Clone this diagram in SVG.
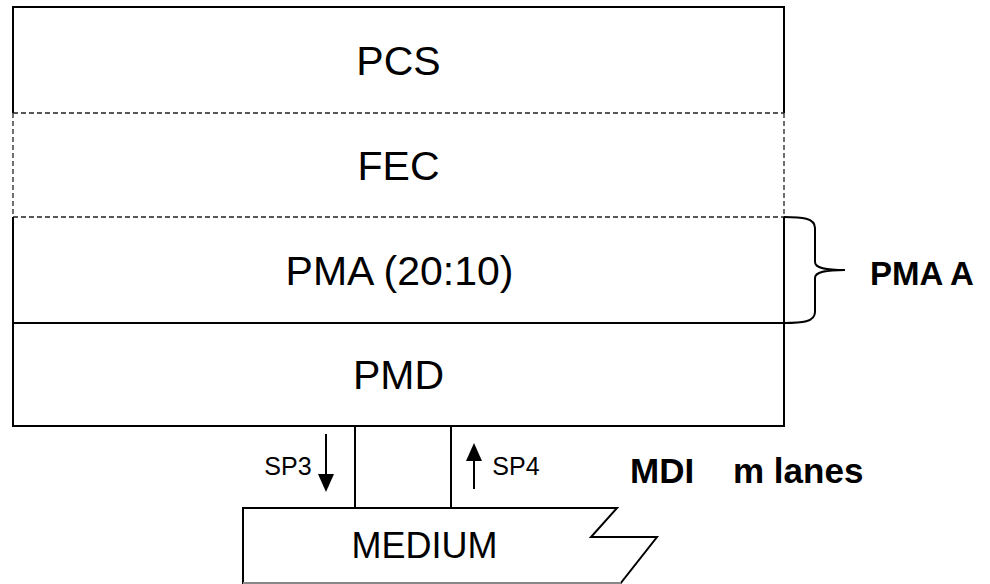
<svg xmlns="http://www.w3.org/2000/svg" width="990" height="584" viewBox="0 0 990 584">
<defs>
<style>
.s{fill:none;stroke:#000;stroke-width:2}
.d{fill:none;stroke:#222;stroke-width:1.3;stroke-dasharray:5 3}
.t{font-family:"Liberation Sans",Arial,sans-serif;fill:#000;text-anchor:middle}
.big{font-size:41px}
.sm{font-size:25px}
.b{font-weight:bold;text-anchor:start}
</style>
</defs>
<rect width="990" height="584" fill="#fff"/>
<g id="pcs">
<path class="s" d="M13,113 V7 H784 V113"/>
<text class="t big" x="398.5" y="75">PCS</text>
</g>
<g id="fec">
<path class="d" d="M13,113 H784 M13,113 V217 M784,113 V217 M13,217 H784"/>
<text class="t big" x="398.5" y="180">FEC</text>
</g>
<g id="pma">
<path class="s" d="M13,217 V323 H784 V217"/>
<text class="t big" x="399.5" y="285">PMA (20:10)</text>
</g>
<g id="pmd">
<path class="s" d="M13,323 V426 H784 V323"/>
<text class="t big" x="398.5" y="389">PMD</text>
</g>
<g id="pma-a">
<path class="s" d="M784,217 C802,217 815,218 815,228 V262 C815,268 825,270 845,270 C825,270 815,272 815,278 V312 C815,322 802,323 784,323"/>
<text class="t b" x="870" y="285" style="font-size:33px">PMA A</text>
</g>
<g id="mdi">
<rect class="s" x="355" y="426" width="96" height="82"/>
<text class="t b" x="630" y="483" style="font-size:35px">MDI</text>
<text class="t b" x="733" y="483" style="font-size:35px">m lanes</text>
</g>
<g id="medium">
<path class="s" d="M243,584 V508 H617 L591,537 H657 L620,584"/>
<line x1="243" y1="583" x2="621" y2="583" stroke="#888" stroke-width="2"/>
<text class="t" x="424.5" y="558" style="font-size:36px">MEDIUM</text>
</g>
<g id="connectors">
<line class="s" x1="326" y1="434" x2="326" y2="478"/>
<path d="M318,474 L334,474 L326,492 z" fill="#000"/>
<line class="s" x1="474" y1="489" x2="474" y2="458"/>
<path d="M466,461 L482,461 L474,443 z" fill="#000"/>
<text class="t sm" x="288" y="475">SP3</text>
<text class="t sm" x="516" y="475">SP4</text>
</g>
</svg>
